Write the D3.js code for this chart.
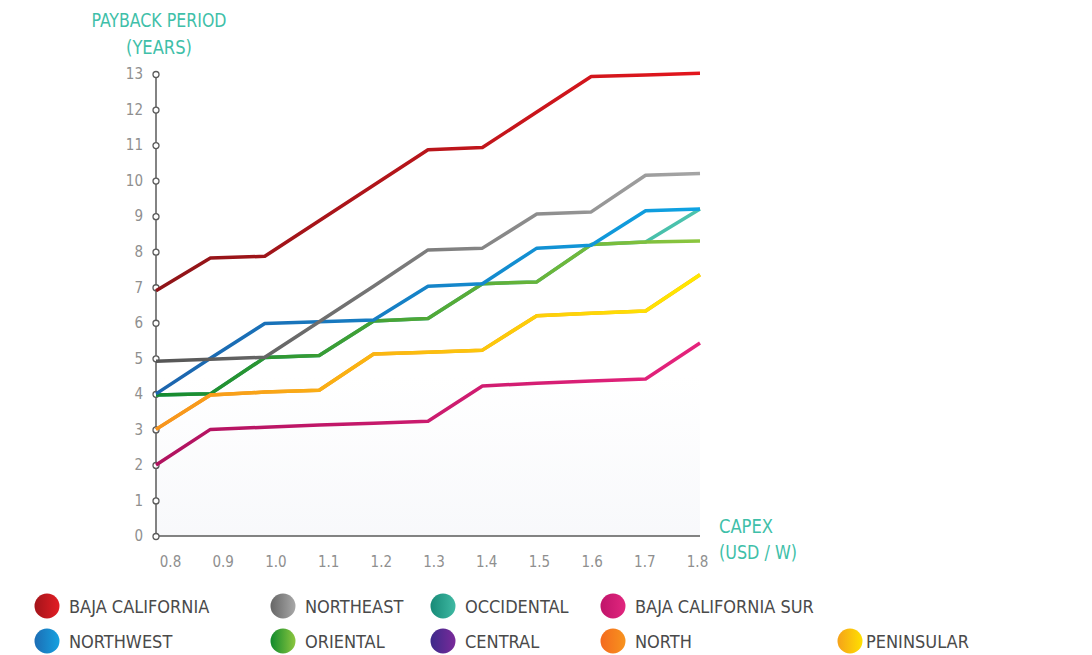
<!DOCTYPE html>
<html>
<head>
<meta charset="utf-8">
<script src="https://cdn.jsdelivr.net/npm/d3@7"></script>
<style>
  html, body { margin: 0; padding: 0; background: #ffffff; }
  svg { display: block; }
  text { font-family: "DejaVu Sans Condensed", "Liberation Sans Narrow", "Liberation Sans", sans-serif; }
</style>
</head>
<body>
<svg id="chart" width="1092" height="655"></svg>
<script>
// CAPEX steps (USD / W)
const capex = [0.8, 0.9, 1.0, 1.1, 1.2, 1.3, 1.4, 1.5, 1.6, 1.7, 1.8];
const capexLabels = ["0.8", "0.9", "1.0", "1.1", "1.2", "1.3", "1.4", "1.5", "1.6", "1.7", "1.8"];
const yearTicks = [0, 1, 2, 3, 4, 5, 6, 7, 8, 9, 10, 11, 12, 13];

// Payback period (years) per region
const bajaCalifornia    = [6.9, 7.82, 7.87, 8.87, 9.87, 10.87, 10.93, 11.93, 12.93, 12.97, 13.02];
const northeast         = [4.92, 4.97, 5.03, 6.03, 7.03, 8.05, 8.1, 9.06, 9.12, 10.15, 10.2];
const northwest         = [4.0, 5.0, 5.98, 6.03, 6.08, 7.03, 7.1, 8.1, 8.18, 9.15, 9.2];
const oriental          = [3.97, 4.0, 5.02, 5.08, 6.05, 6.12, 7.1, 7.15, 8.2, 8.27, 8.3];
const occidental        = [3.97, 4.0, 5.02, 5.08, 6.05, 6.12, 7.1, 7.15, 8.2, 8.27, 9.2];
const bajaCaliforniaSur = [2.0, 3.0, 3.06, 3.12, 3.17, 3.23, 4.22, 4.3, 4.36, 4.42, 5.43];
const north             = [3.0, 3.97, 4.05, 4.1, 5.12, 5.17, 5.23, 6.2, 6.27, 6.33, 7.35];
const peninsular        = [3.0, 3.97, 4.05, 4.1, 5.12, 5.17, 5.23, 6.2, 6.27, 6.33, 7.35];

// Series in drawing order (later ones sit on top)
const series = [
  { name: "OCCIDENTAL", values: occidental, c0: "#1f9a86", c1: "#4cc3ae" },
  { name: "ORIENTAL", values: oriental, c0: "#148a2e", c1: "#8cc63f" },
  { name: "NORTHWEST", values: northwest, c0: "#1c64ad", c1: "#0ea3e3" },
  { name: "NORTHEAST", values: northeast, c0: "#555555", c1: "#a5a5a5" },
  { name: "NORTH", values: north, c0: "#f39019", c1: "#f7a21a" },
  { name: "PENINSULAR", values: peninsular, c0: "#f7941d", c1: "#ffe800" },
  { name: "BAJA CALIFORNIA SUR", values: bajaCaliforniaSur, c0: "#b0125f", c1: "#e5237c" },
  { name: "BAJA CALIFORNIA", values: bajaCalifornia, c0: "#8e1418", c1: "#e3161d" }
];

// Legend entries, laid out in two rows
const legendRow1 = [
  { name: "BAJA CALIFORNIA", c0: "#a3141a", c1: "#e21d24" },
  { name: "NORTHEAST", c0: "#666666", c1: "#a8a8a8" },
  { name: "OCCIDENTAL", c0: "#178a77", c1: "#3fb9a3" },
  { name: "BAJA CALIFORNIA SUR", c0: "#c0146a", c1: "#e1267e" }
];
const legendRow2 = [
  { name: "NORTHWEST", c0: "#1c6db4", c1: "#16a1e0" },
  { name: "ORIENTAL", c0: "#108a2c", c1: "#8cc63f" },
  { name: "CENTRAL", c0: "#3c2a8a", c1: "#7a2a9a" },
  { name: "NORTH", c0: "#f46a1e", c1: "#f7931e" },
  { name: "PENINSULAR", c0: "#f5a21a", c1: "#ffe000" }
];

const svg = d3.select("#chart");
const defs = svg.append("defs");

const x = d3.scaleLinear().domain([0.8, 1.8]).range([156, 700]);
const xLabel = d3.scaleLinear().domain([0.8, 1.8]).range([170, 697]);
const y = d3.scaleLinear().domain([0, 13]).range([536, 74]);

// faint shading in the lower plot area
const shade = defs.append("linearGradient").attr("id", "shade")
  .attr("x1", 0).attr("y1", 0).attr("x2", 0).attr("y2", 1);
shade.append("stop").attr("offset", "0%").attr("stop-color", "#f6f7fa").attr("stop-opacity", 0);
shade.append("stop").attr("offset", "100%").attr("stop-color", "#f6f7fa").attr("stop-opacity", 0.8);
svg.append("rect")
  .attr("x", x(0.8)).attr("y", y(4.5))
  .attr("width", x(1.8) - x(0.8)).attr("height", y(0) - y(4.5))
  .attr("fill", "url(#shade)");

// axes
const axisColor = "#5a5a5a";
svg.append("line")
  .attr("x1", x(0.8)).attr("x2", x(0.8))
  .attr("y1", y(0)).attr("y2", y(13))
  .attr("stroke", axisColor).attr("stroke-width", 1.5);
svg.append("line")
  .attr("x1", x(0.8)).attr("x2", x(1.8))
  .attr("y1", y(0)).attr("y2", y(0))
  .attr("stroke", axisColor).attr("stroke-width", 1.5);

const yAxis = d3.axisLeft(y).tickValues(yearTicks).tickSize(0).tickPadding(13)
  .tickFormat(d3.format("d"));
const yg = svg.append("g").attr("transform", `translate(${x(0.8)},0)`).call(yAxis);
yg.select(".domain").remove();
yg.selectAll("text").attr("fill", "#8f8f8f").attr("font-size", 15);
yg.selectAll(".tick").append("circle")
  .attr("r", 3).attr("fill", "#ffffff").attr("stroke", axisColor).attr("stroke-width", 1.3);

const xAxis = d3.axisBottom(xLabel).tickValues(capex).tickSize(0).tickPadding(20)
  .tickFormat((d, i) => capexLabels[i]);
const xg = svg.append("g").attr("transform", `translate(0,${y(0)})`).call(xAxis);
xg.select(".domain").remove();
xg.selectAll("text").attr("fill", "#8f8f8f").attr("font-size", 15);

// lines, each with a left-to-right colour gradient
const line = d3.line().x((d, i) => x(capex[i])).y(d => y(d));
series.forEach((s, k) => {
  const gid = "g" + k;
  const g = defs.append("linearGradient").attr("id", gid)
    .attr("gradientUnits", "userSpaceOnUse")
    .attr("x1", x(0.8)).attr("y1", 0).attr("x2", x(1.8)).attr("y2", 0);
  g.append("stop").attr("offset", "0%").attr("stop-color", s.c0);
  g.append("stop").attr("offset", "100%").attr("stop-color", s.c1);
  svg.append("path")
    .datum(s.values)
    .attr("d", line)
    .attr("fill", "none")
    .attr("stroke", `url(#${gid})`)
    .attr("stroke-width", 3.5)
    .attr("stroke-linejoin", "round");
});

// axis titles
const titleColor = "#3fbfa9";
function title(txt, xPos, yPos, anchor, len) {
  svg.append("text").attr("x", xPos).attr("y", yPos).attr("text-anchor", anchor)
    .attr("fill", titleColor).attr("font-size", 20)
    .attr("textLength", len).attr("lengthAdjust", "spacingAndGlyphs")
    .text(txt);
}
title("PAYBACK PERIOD", 159, 27, "middle", 135);
title("(YEARS)", 159, 54, "middle", 66);
title("CAPEX", 719, 533, "start", 54);
title("(USD / W)", 719, 559, "start", 78);

// legend
const legendX = [47, 283, 443, 613, 850];
function drawLegend(items, cy, prefix) {
  items.forEach((it, i) => {
    const gid = prefix + i;
    const g = defs.append("linearGradient").attr("id", gid)
      .attr("x1", 0).attr("y1", 0).attr("x2", 1).attr("y2", 0);
    g.append("stop").attr("offset", "0%").attr("stop-color", it.c0);
    g.append("stop").attr("offset", "100%").attr("stop-color", it.c1);
    const cx = legendX[i];
    svg.append("circle").attr("cx", cx).attr("cy", cy).attr("r", 12.5)
      .attr("fill", `url(#${gid})`);
    svg.append("text").attr("x", cx + (i === 4 ? 16 : 22)).attr("y", cy + 7)
      .attr("fill", "#4a4a4a").attr("font-size", 18).text(it.name);
  });
}
drawLegend(legendRow1, 606, "l");
drawLegend(legendRow2, 641, "r");
</script>
</body>
</html>
